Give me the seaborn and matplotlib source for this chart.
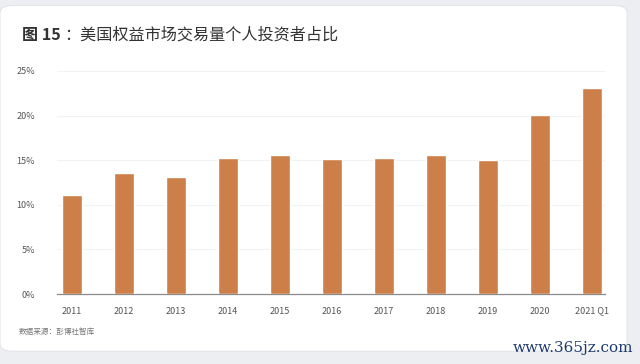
import matplotlib
matplotlib.use("Agg")
import matplotlib.pyplot as plt
from matplotlib.patches import FancyBboxPatch
import seaborn as sns
import pandas as pd

periods = ["2011", "2012", "2013", "2014", "2015", "2016", "2017", "2018", "2019", "2020", "2021 Q1"]
shares = [11.1, 13.6, 13.1, 15.2, 15.6, 15.1, 15.2, 15.6, 15.0, 20.1, 23.1]
yticks = [0, 5, 10, 15, 20, 25]
ytick_labels = ["0%", "5%", "10%", "15%", "20%", "25%"]

sns.set_style("white")
plt.rcParams['font.family'] = ['Noto Sans CJK SC', 'DejaVu Sans']

df = pd.DataFrame({"period": periods, "share": shares})

fig = plt.figure(figsize=(6.4, 3.64), dpi=100)
fig.patch.set_facecolor("#eceef1")

# white card behind the chart
card = FancyBboxPatch((0.0, 0.035), 0.98, 0.95, boxstyle="round,pad=0,rounding_size=0.02",
                      transform=fig.transFigure, facecolor="white", edgecolor="#e2e4e8",
                      linewidth=0.8, zorder=-5)
fig.add_artist(card)

ax = fig.add_axes([0.089, 0.192, 0.856, 0.613])
ax.set_facecolor("none")
sns.barplot(data=df, x="period", y="share", color="#cd7f4a", width=0.39,
            saturation=1, ax=ax, zorder=3)

ax.set_ylim(0, 25)
ax.set_xlim(-0.29, 10.25)
ax.set_yticks(yticks)
ax.set_yticklabels(ytick_labels)
ax.set_axisbelow(True)
ax.yaxis.grid(True, color="#f2f2f5", linewidth=0.8)
for s in ["top", "right", "left"]:
    ax.spines[s].set_visible(False)
ax.spines["bottom"].set_color("#8a8a8a")
ax.spines["bottom"].set_linewidth(0.9)
ax.tick_params(axis="both", length=0, labelsize=6.5, labelcolor="#555555")
ax.tick_params(axis="x", pad=9)
ax.tick_params(axis="y", pad=16)
ax.set_xlabel("")
ax.set_ylabel("")

fig.text(0.034, 0.903, "图 15", fontsize=11.6, fontweight="bold", color="#333333", va="center")
fig.text(0.101, 0.903, "：美国权益市场交易量个人投资者占比", fontsize=11.6, color="#333333", va="center")
fig.text(0.030, 0.087, "数据来源：彭博社智库", fontsize=5.5, color="#777777", va="center")
fig.text(0.99, 0.045, "www.365jz.com", fontsize=11, color="#1f3a6e", ha="right", va="center",
         family=["DejaVu Serif"])

fig.savefig("out.png", dpi=100)
